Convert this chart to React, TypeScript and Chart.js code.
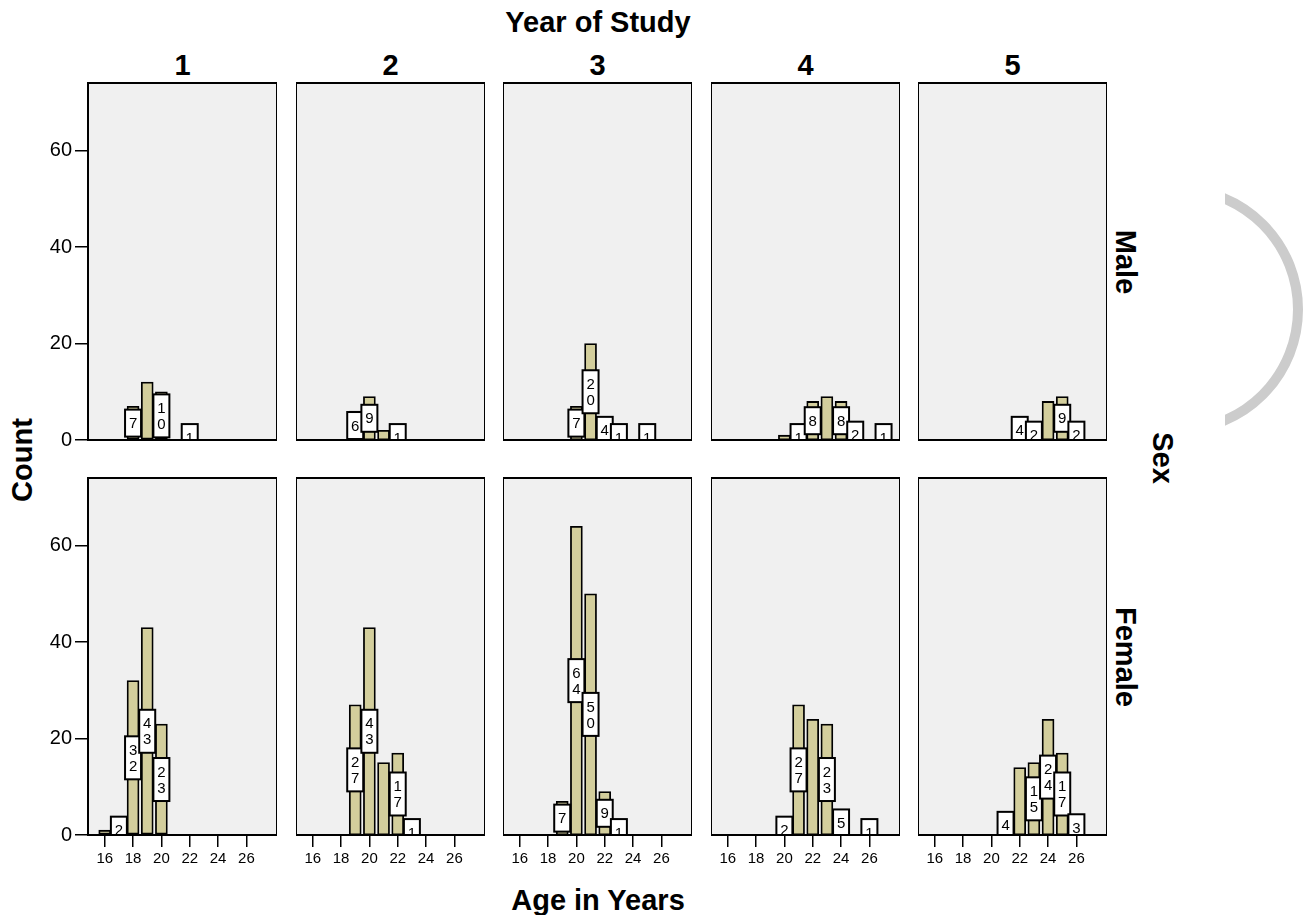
import React, { useEffect, useRef } from "react";
import { Chart, registerables } from "chart.js";

Chart.register(...registerables);
Chart.defaults.font.family = 'Arial, "Liberation Sans", sans-serif';
Chart.defaults.color = "#000";

// ---------- data ----------
const AGES = [16, 17, 18, 19, 20, 21, 22, 23, 24, 25, 26, 27];
const X_TICKS = [16, 18, 20, 22, 24, 26];
const Y_TICKS = [0, 20, 40, 60];
const YEARS = ["1", "2", "3", "4", "5"];
const SEXES = ["Male", "Female"];

const MALE_Y1 = [0, 0, 7, 12, 10, 0, 1, 0, 0, 0, 0, 0];
const MALE_Y2 = [0, 0, 0, 6, 9, 2, 1, 0, 0, 0, 0, 0];
const MALE_Y3 = [0, 0, 0, 0, 7, 20, 4, 1, 0, 1, 0, 0];
const MALE_Y4 = [0, 0, 0, 0, 1, 1, 8, 9, 8, 2, 0, 1];
const MALE_Y5 = [0, 0, 0, 0, 0, 0, 4, 2, 8, 9, 2, 0];

const FEMALE_Y1 = [1, 2, 32, 43, 23, 0, 0, 0, 0, 0, 0, 0];
const FEMALE_Y2 = [0, 0, 0, 27, 43, 15, 17, 1, 0, 0, 0, 0];
const FEMALE_Y3 = [0, 0, 0, 7, 64, 50, 9, 1, 0, 0, 0, 0];
const FEMALE_Y4 = [0, 0, 0, 0, 2, 27, 24, 23, 5, 0, 1, 0];
const FEMALE_Y5 = [0, 0, 0, 0, 0, 4, 14, 15, 24, 17, 3, 0];

// ages whose count label is not shown
const MALE_UNLABELED = [[19], [21], [], [20, 23], [24]];
const FEMALE_UNLABELED = [[16], [21], [], [22], [22]];

const MALE = [MALE_Y1, MALE_Y2, MALE_Y3, MALE_Y4, MALE_Y5];
const FEMALE = [FEMALE_Y1, FEMALE_Y2, FEMALE_Y3, FEMALE_Y4, FEMALE_Y5];

// ---------- layout ----------
const COL_LEFT = [88, 296, 503, 711, 918];
const ROW_TOP = [83, 478];
const PANEL_W = 189;
const PANEL_H = 357;
const Y_AXIS_W = 88;
const X_AXIS_H = 60;
const PAD = 20;
const X_MIN = 14.82;
const X_MAX = 28.16;
const Y_MAX = 74;

const BAR_COLOR = "#d3ce9c";
const PANEL_BG = "#f0f0f0";
const FONT = 'Arial, "Liberation Sans", sans-serif';

const panelPlugin = {
  id: "panel",
  beforeDatasetsDraw(chart: any) {
    const { ctx, chartArea: a } = chart;
    ctx.save();
    ctx.fillStyle = PANEL_BG;
    ctx.fillRect(a.left, a.top, a.right - a.left, a.bottom - a.top);
    ctx.restore();
  },
  afterDatasetsDraw(chart: any, _args: any, opts: any) {
    const { ctx, chartArea: a } = chart;
    const meta = chart.getDatasetMeta(0);
    const ds = chart.data.datasets[0];
    const unlabeled: number[] = opts.unlabeled || [];
    ctx.save();
    ctx.beginPath();
    ctx.rect(a.left, a.top, a.right - a.left, a.bottom - a.top);
    ctx.clip();
    meta.data.forEach((bar: any, i: number) => {
      const p = ds.data[i];
      if (unlabeled.includes(p.x)) return;
      const digits = String(p.y).split("");
      const cx = bar.x;
      const cy = chart.scales.y.getPixelForValue(p.y / 2);
      const w = 16;
      const h = 11 + 16 * digits.length;
      ctx.fillStyle = "#fff";
      ctx.fillRect(cx - w / 2, cy - h / 2, w, h);
      ctx.strokeStyle = "#000";
      ctx.lineWidth = 2;
      ctx.strokeRect(cx - w / 2, cy - h / 2, w, h);
      ctx.fillStyle = "#000";
      ctx.font = `15px ${FONT}`;
      ctx.textAlign = "center";
      ctx.textBaseline = "middle";
      digits.forEach((d, k) => {
        ctx.fillText(d, cx, cy - (digits.length - 1) * 8 + k * 16 + 1);
      });
    });
    ctx.restore();
    ctx.save();
    ctx.strokeStyle = "#000";
    ctx.lineWidth = 2;
    ctx.strokeRect(a.left, a.top, a.right - a.left, a.bottom - a.top);
    ctx.restore();
  },
};

function Panel({ row, col }: { row: number; col: number }) {
  const ref = useRef<HTMLCanvasElement>(null);
  const isLeft = col === 0;
  const isBottom = row === 1;
  const width = PANEL_W + (isLeft ? Y_AXIS_W : 0);
  const height = PANEL_H + PAD + (isBottom ? X_AXIS_H : PAD);

  useEffect(() => {
    const counts = (row === 0 ? MALE : FEMALE)[col];
    const unlabeled = (row === 0 ? MALE_UNLABELED : FEMALE_UNLABELED)[col];
    const points = AGES.map((a, i) => ({ x: a, y: counts[i] })).filter((p) => p.y > 0);
    const chart = new Chart(ref.current as HTMLCanvasElement, {
      type: "bar",
      data: {
        datasets: [
          {
            data: points as any,
            backgroundColor: BAR_COLOR,
            borderColor: "#000",
            borderWidth: 1.8,
            borderSkipped: false,
            barThickness: 12,
          },
        ],
      },
      options: {
        animation: false,
        responsive: false,
        maintainAspectRatio: false,
        devicePixelRatio: 1,
        layout: { padding: { top: PAD, bottom: isBottom ? 0 : PAD, left: 0, right: 0 } },
        plugins: {
          legend: { display: false },
          tooltip: { enabled: false },
          title: { display: false },
          panel: { unlabeled },
        } as any,
        scales: {
          x: {
            type: "linear",
            min: X_MIN,
            max: X_MAX,
            offset: false,
            display: isBottom,
            afterFit: (s: any) => {
              s.height = isBottom ? X_AXIS_H : 0;
            },
            afterBuildTicks: (s: any) => {
              s.ticks = X_TICKS.map((v) => ({ value: v }));
            },
            grid: {
              offset: false,
              drawOnChartArea: false,
              drawTicks: true,
              tickLength: 12,
              color: "#000",
              lineWidth: 1.5,
            },
            border: { display: false },
            ticks: { padding: 3, color: "#000", font: { size: 15 }, maxRotation: 0, autoSkip: false },
          },
          y: {
            type: "linear",
            min: 0,
            max: Y_MAX,
            display: isLeft,
            afterFit: (s: any) => {
              s.width = isLeft ? Y_AXIS_W : 0;
            },
            afterBuildTicks: (s: any) => {
              s.ticks = Y_TICKS.map((v) => ({ value: v }));
            },
            grid: {
              drawOnChartArea: false,
              drawTicks: true,
              tickLength: 13,
              color: "#000",
              lineWidth: 1.5,
            },
            border: { display: false },
            ticks: { padding: 3, color: "#000", font: { size: 20 }, autoSkip: false },
          },
        },
      } as any,
      plugins: [panelPlugin],
    });
    return () => chart.destroy();
  }, [row, col]);

  return (
    <canvas
      ref={ref}
      width={width}
      height={height}
      style={{
        position: "absolute",
        left: COL_LEFT[col] - (isLeft ? Y_AXIS_W : 0),
        top: ROW_TOP[row] - PAD,
        width,
        height,
      }}
    />
  );
}

function Label({
  text,
  x,
  y,
  rotate = 0,
  size = 29,
}: {
  text: string;
  x: number;
  y: number;
  rotate?: number;
  size?: number;
}) {
  return (
    <div
      style={{
        position: "absolute",
        left: x,
        top: y,
        transform: `translate(-50%, -50%) rotate(${rotate}deg)`,
        fontFamily: FONT,
        fontWeight: "bold",
        fontSize: size,
        lineHeight: 1,
        whiteSpace: "nowrap",
        color: "#000",
      }}
    >
      {text}
    </div>
  );
}

export default function App() {
  return (
    <div
      style={{
        position: "fixed",
        left: 0,
        top: 0,
        width: 1308,
        height: 915,
        background: "#fff",
        overflow: "hidden",
      }}
    >
      <Label text="Year of Study" x={598} y={22} />
      {YEARS.map((t, c) => (
        <Label key={t} text={t} x={COL_LEFT[c] + PANEL_W / 2} y={65} />
      ))}
      <Label text="Count" x={22} y={460} rotate={-90} />
      <Label text="Age in Years" x={598} y={900} />
      <Label text={SEXES[0]} x={1125} y={(ROW_TOP[0] * 2 + PANEL_H) / 2} rotate={90} />
      <Label text={SEXES[1]} x={1125} y={(ROW_TOP[1] * 2 + PANEL_H) / 2} rotate={90} />
      <Label text="Sex" x={1162} y={458} rotate={90} />
      {[0, 1].map((r) => [0, 1, 2, 3, 4].map((c) => <Panel key={`${r}-${c}`} row={r} col={c} />))}
      <div
        style={{
          position: "absolute",
          left: 1225,
          top: 0,
          width: 83,
          height: 915,
          overflow: "hidden",
        }}
      >
        <div
          style={{
            position: "absolute",
            left: 1052 - 1225,
            top: 184,
            width: 251,
            height: 251,
            borderRadius: "50%",
            border: "10px solid #cccccc",
            boxSizing: "border-box",
          }}
        />
      </div>
    </div>
  );
}
